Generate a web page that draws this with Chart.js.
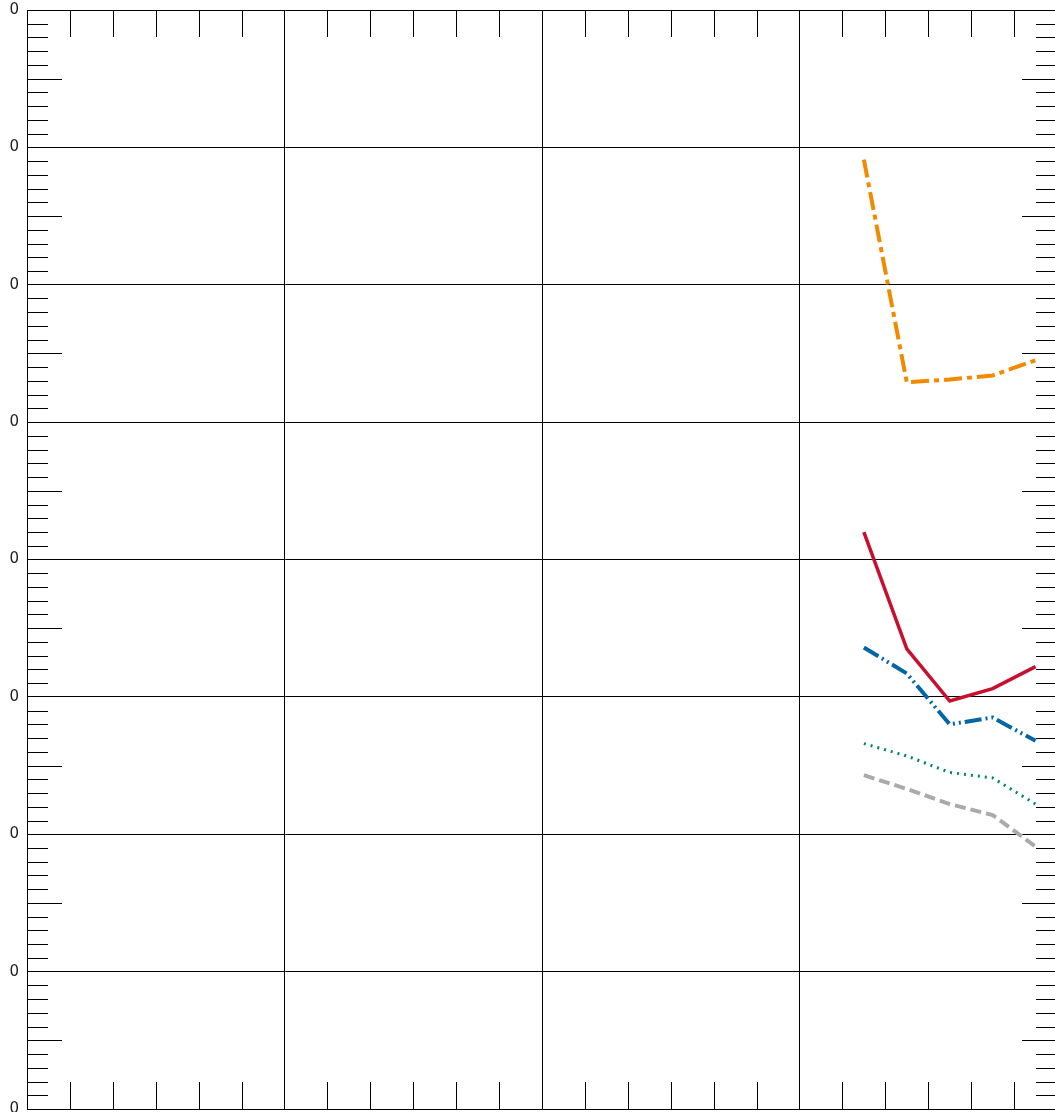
<!DOCTYPE html>
<html>
<head>
<meta charset="utf-8">
<script src="https://cdn.jsdelivr.net/npm/chart.js@4.4.1/dist/chart.umd.min.js"></script>
<style>
  html, body { margin: 0; padding: 0; background: #fff; }
  #wadah { position: relative; width: 1055px; height: 1112px; overflow: hidden; }
  #grafik { position: absolute; left: 0; top: -7px; }
</style>
</head>
<body>
<div id="wadah"><canvas id="grafik" width="1060" height="1137"></canvas></div>
<script>
// Posisi titik pada sumbu X (di tengah tiap interval kecil).
const posisiX = [19.5, 20.5, 21.5, 22.5, 23.5];

// Nilai tiap seri.
const seriOranye = [6.91, 5.29, 5.31, 5.34, 5.45];
const seriMerah = [4.20, 3.35, 2.97, 3.06, 3.22];
const seriBiru = [3.36, 3.17, 2.80, 2.85, 2.68];
const seriHijau = [2.66, 2.57, 2.45, 2.41, 2.22];
const seriAbu = [2.43, 2.33, 2.22, 2.14, 1.91];

// Label sumbu Y yang terlihat.
const labelY = ['0', '0', '0', '0', '0', '0', '0', '0', '0'];

const keTitik = (arr) => arr.map((v, i) => ({ x: posisiX[i], y: v }));

// Plugin untuk menggambar tick kecil di sisi dalam area grafik.
const tickKecil = {
    id: 'tickKecil',
    beforeDatasetsDraw(chart) {
        const { ctx, chartArea: a, scales: { x, y } } = chart;
        ctx.save();
        ctx.strokeStyle = '#000';
        ctx.lineWidth = 1;
        ctx.beginPath();
        for (let v = 0; v <= 24; v++) {
            if (v % 6 === 0) continue;
            const px = Math.round(x.getPixelForValue(v)) + 0.5;
            ctx.moveTo(px, a.top); ctx.lineTo(px, a.top + 27);
            ctx.moveTo(px, a.bottom); ctx.lineTo(px, a.bottom - 27);
        }
        for (let k = 0; k <= 80; k++) {
            if (k % 10 === 0) continue;
            const py = Math.round(y.getPixelForValue(k / 10)) + 0.5;
            const pj = (k % 5 === 0) ? 35 : 21;
            ctx.moveTo(a.left, py); ctx.lineTo(a.left + pj, py);
            ctx.moveTo(a.right, py); ctx.lineTo(a.right - pj, py);
        }
        ctx.stroke();
        ctx.restore();
    }
};

function buatSeri(data, warna, tebal, dash) {
    return {
        data: keTitik(data),
        borderColor: warna,
        borderWidth: tebal,
        borderDash: dash,
        borderCapStyle: 'butt',
        pointRadius: 0,
        tension: 0,
        fill: false
    };
}

new Chart(document.getElementById('grafik').getContext('2d'), {
    type: 'line',
    data: {
        datasets: [
            buatSeri(seriOranye, '#F28A00', 4, [18, 5, 5, 5]),
            buatSeri(seriMerah, '#C8102E', 3.5, []),
            buatSeri(seriBiru, '#0066A6', 4, [17, 4, 2, 4, 2, 4]),
            buatSeri(seriHijau, '#00875A', 3, [2, 5]),
            buatSeri(seriAbu, '#AAAAAA', 4, [11, 5])
        ]
    },
    options: {
        responsive: false,
        animation: false,
        devicePixelRatio: 1,
        layout: { padding: { left: 0, top: 0, right: 3, bottom: 21 } },
        plugins: { legend: { display: false }, tooltip: { enabled: false } },
        scales: {
            x: {
                type: 'linear',
                min: 0,
                max: 24,
                ticks: { stepSize: 6, display: false },
                grid: { color: '#000', lineWidth: 1, drawTicks: false },
                border: { color: '#000' }
            },
            y: {
                min: 0,
                max: 8,
                ticks: {
                    stepSize: 1,
                    padding: 8,
                    color: '#222',
                    font: { family: 'DejaVu Sans', size: 15 },
                    callback: (v, i) => labelY[i]
                },
                grid: { color: '#000', lineWidth: 1, drawTicks: false },
                border: { color: '#000' },
                afterFit: (s) => { s.width = 27; }
            }
        }
    },
    plugins: [tickKecil]
});
</script>
</body>
</html>
